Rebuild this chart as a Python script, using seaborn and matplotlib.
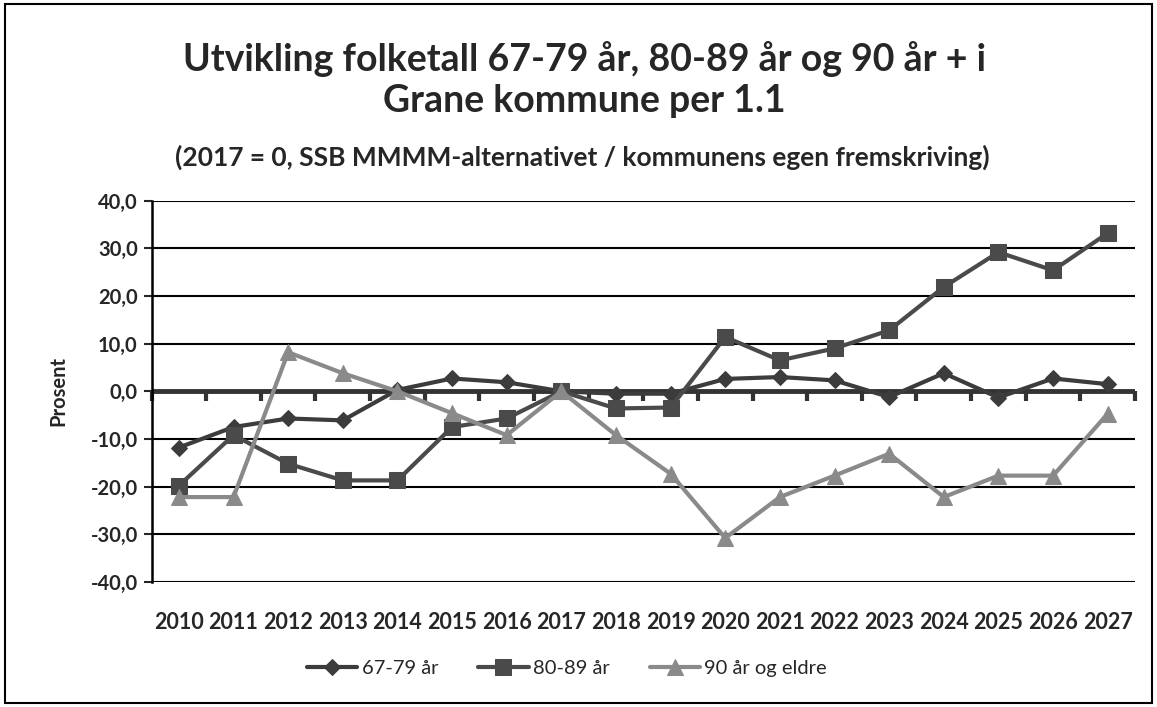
import matplotlib
matplotlib.use("Agg")
import matplotlib.pyplot as plt
from matplotlib.markers import TICKDOWN
import seaborn as sns
import pandas as pd
import numpy as np

years = [str(y) for y in range(2010, 2028)]
s6779 = [-11.8, -7.5, -5.7, -6.1, 0.3, 2.7, 1.9, 0.0, -0.5, -0.5, 2.6, 3.0, 2.3, -1.2, 3.8, -1.3, 2.7, 1.5]
s8089 = [-19.8, -9.2, -15.2, -18.7, -18.7, -7.5, -5.7, 0.0, -3.6, -3.4, 11.4, 6.5, 9.0, 12.8, 21.9, 29.2, 25.4, 33.2]
s90 = [-22.2, -22.2, 8.2, 3.8, 0.0, -4.6, -9.2, 0.0, -9.2, -17.3, -30.8, -22.2, -17.7, -13.1, -22.2, -17.7, -17.7, -4.7]
series_names = ["67-79 år", "80-89 år", "90 år og eldre"]
yticks = [-40, -30, -20, -10, 0, 10, 20, 30, 40]

sns.set_style("white")
plt.rcParams['font.family'] = ['Lato', 'DejaVu Sans']
plt.rcParams['ytick.left'] = True

df = pd.DataFrame({
    "x": list(range(len(years))) * 3,
    "val": s6779 + s8089 + s90,
    "serie": [series_names[0]] * 18 + [series_names[1]] * 18 + [series_names[2]] * 18,
})

fig = plt.figure(figsize=(11.57, 7.07), dpi=100)
fig.patch.set_facecolor("white")
ax = fig.add_axes([0.131, 0.177, 0.850, 0.539])

colors = {"67-79 år": "#3c3c3c", "80-89 år": "#4a4a4a", "90 år og eldre": "#8a8a8a"}
markers = {"67-79 år": "D", "80-89 år": "s", "90 år og eldre": "^"}
msize = {"67-79 år": 8, "80-89 år": 11, "90 år og eldre": 11}

# gridlines
for yv in yticks:
    if yv != 0:
        ax.axhline(yv, color="black", lw=1.5, zorder=1)

# zero category axis with tick marks at category boundaries
ax.axhline(0, color="#333333", lw=3.5, zorder=2)
boundaries = np.arange(-0.5, len(years), 1.0)
ax.plot(boundaries, np.zeros_like(boundaries), ls="none", marker=TICKDOWN,
        markersize=7, mew=3, color="#333333", zorder=2, clip_on=False)

for name in series_names:
    sub = df[df["serie"] == name]
    sns.lineplot(data=sub, x="x", y="val", ax=ax, color=colors[name], lw=3,
                 marker=markers[name], markersize=msize[name], markeredgecolor=colors[name],
                 label=name, zorder=3, legend=False)

ax.set_xlim(-0.5, len(years) - 0.5)
ax.set_ylim(-40, 40)
ax.set_yticks(yticks)
ax.set_yticklabels([f"{v:.1f}".replace(".", ",") for v in yticks], fontsize=14.5, fontweight="bold")
ax.set_xticks(range(len(years)))
ax.set_xticklabels(years, fontsize=15.5, fontweight="bold")
ax.tick_params(axis="x", length=0, pad=22)
ax.tick_params(axis="y", length=6, width=1.5, direction="out", pad=4, left=True)
ax.set_xlabel("")
ax.set_ylabel("Prosent", fontsize=14.5, fontweight="bold", labelpad=16)
for sp in ["top", "right", "bottom"]:
    ax.spines[sp].set_visible(False)
ax.spines["left"].set_linewidth(1.8)
ax.spines["left"].set_color("black")

fig.text(0.505, 0.887, "Utvikling folketall 67-79 år, 80-89 år og 90 år + i\nGrane kommune per 1.1",
         ha="center", va="center", fontsize=27, fontweight="bold", linespacing=1.25)
fig.text(0.503, 0.778, "(2017 = 0, SSB MMMM-alternativet / kommunens egen fremskriving)",
         ha="center", va="center", fontsize=19, fontweight="bold")

handles, labels = ax.get_legend_handles_labels()
fig.legend(handles, labels, loc="center", bbox_to_anchor=(0.49, 0.055), ncol=3, frameon=False,
           fontsize=14.5, handlelength=2.5, columnspacing=2.0, handletextpad=0.2)

fig.add_artist(plt.Rectangle((0.004, 0.006), 0.992, 0.988, transform=fig.transFigure,
                             fill=False, edgecolor="black", lw=1.5))

fig.savefig("out.png", dpi=100)
